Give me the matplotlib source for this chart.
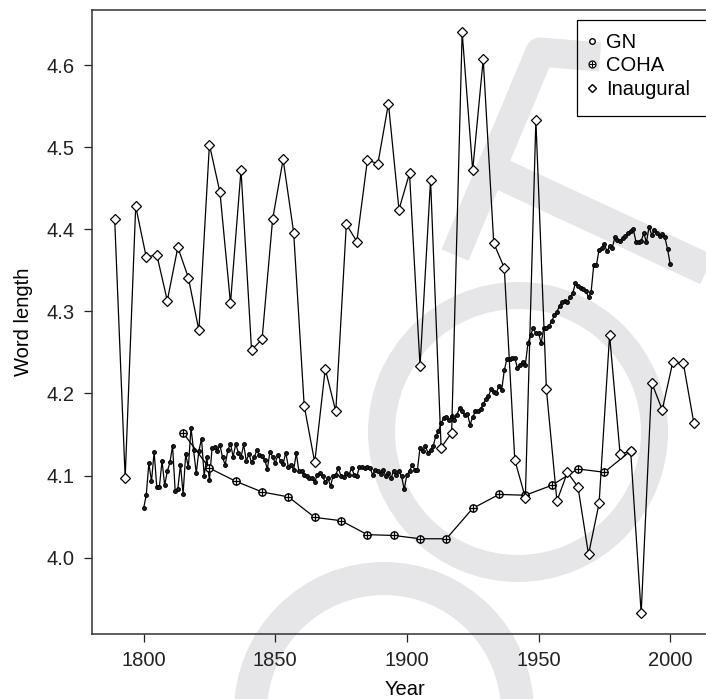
import numpy as np
import matplotlib
matplotlib.use("Agg")
import matplotlib.pyplot as plt
from matplotlib.lines import Line2D
from matplotlib.patches import Wedge, Rectangle

plt.rcParams['font.family'] = ['Liberation Sans', 'DejaVu Sans']

# Google Ngram yearly word length, 1800-2000
gn_years = np.arange(1800, 2001)
gn_1800_1855 = [4.060, 4.076, 4.115, 4.093, 4.129, 4.086, 4.086, 4.118, 4.088, 4.105,
                4.116, 4.136, 4.081, 4.084, 4.113, 4.078, 4.126, 4.110, 4.158, 4.131,
                4.103, 4.130, 4.145, 4.100, 4.122, 4.094, 4.133, 4.135, 4.130, 4.137,
                4.122, 4.113, 4.131, 4.139, 4.123, 4.138, 4.128, 4.122, 4.138, 4.118,
                4.126, 4.116, 4.122, 4.131, 4.125, 4.124, 4.119, 4.108, 4.129, 4.123,
                4.115, 4.125, 4.118, 4.114, 4.128, 4.110]
gn_1856_1908 = [4.113, 4.107, 4.127, 4.105, 4.106, 4.101, 4.099, 4.097, 4.097, 4.092,
                4.101, 4.103, 4.099, 4.092, 4.097, 4.087, 4.100, 4.101, 4.109, 4.099,
                4.098, 4.103, 4.101, 4.109, 4.101, 4.099, 4.111, 4.110, 4.109, 4.111,
                4.109, 4.101, 4.107, 4.106, 4.102, 4.107, 4.099, 4.103, 4.097, 4.106,
                4.101, 4.105, 4.099, 4.083, 4.101, 4.105, 4.113, 4.107, 4.107, 4.134,
                4.130, 4.136, 4.128]
gn_1909_1960 = [4.131, 4.136, 4.148, 4.154, 4.164, 4.170, 4.171, 4.168, 4.172, 4.168,
                4.174, 4.182, 4.178, 4.174, 4.175, 4.162, 4.171, 4.178, 4.178, 4.181,
                4.187, 4.193, 4.197, 4.205, 4.202, 4.201, 4.209, 4.204, 4.228, 4.242,
                4.242, 4.243, 4.243, 4.231, 4.235, 4.238, 4.235, 4.261, 4.271, 4.280,
                4.273, 4.274, 4.261, 4.280, 4.280, 4.282, 4.288, 4.295, 4.299, 4.307,
                4.311, 4.313]
gn_1961_2000 = [4.311, 4.317, 4.322, 4.334, 4.331, 4.329, 4.327, 4.325, 4.317, 4.324,
                4.357, 4.356, 4.375, 4.377, 4.382, 4.373, 4.379, 4.377, 4.390, 4.387,
                4.386, 4.389, 4.392, 4.395, 4.398, 4.400, 4.385, 4.385, 4.386, 4.395,
                4.384, 4.403, 4.393, 4.399, 4.396, 4.392, 4.394, 4.390, 4.376, 4.358]
gn_vals = gn_1800_1855 + gn_1856_1908 + gn_1909_1960 + gn_1961_2000

# COHA decade means
coha_years = [1815, 1825, 1835, 1845, 1855, 1865, 1875, 1885, 1895,
              1905, 1915, 1925, 1935, 1945, 1955, 1965, 1975, 1985]
coha_vals = [4.152, 4.109, 4.093, 4.080, 4.074, 4.049, 4.045, 4.028, 4.027,
             4.023, 4.023, 4.060, 4.077, 4.076, 4.088, 4.108, 4.104, 4.130]

# Inaugural addresses
inaug_years = [1789, 1793, 1797, 1801, 1805, 1809, 1813, 1817, 1821, 1825,
               1829, 1833, 1837, 1841, 1845, 1849, 1853, 1857, 1861, 1865,
               1869, 1873, 1877, 1881, 1885, 1889, 1893, 1897, 1901, 1905,
               1909, 1913, 1917, 1921, 1925, 1929, 1933, 1937, 1941, 1945,
               1949, 1953, 1957, 1961, 1965, 1969, 1973, 1977, 1981, 1985,
               1989, 1993, 1997, 2001, 2005, 2009]
inaug_vals = [4.413, 4.097, 4.428, 4.366, 4.369, 4.313, 4.378, 4.341, 4.277, 4.503,
              4.445, 4.310, 4.472, 4.253, 4.266, 4.412, 4.485, 4.396, 4.185, 4.116,
              4.230, 4.178, 4.406, 4.385, 4.484, 4.480, 4.553, 4.424, 4.468, 4.233,
              4.460, 4.134, 4.152, 4.640, 4.472, 4.607, 4.383, 4.353, 4.119, 4.073,
              4.533, 4.205, 4.069, 4.104, 4.086, 4.004, 4.066, 4.271, 4.126, 4.130,
              3.932, 4.213, 4.180, 4.238, 4.237, 4.164]

W, H = 706, 699
fig = plt.figure(figsize=(W / 100, H / 100), dpi=100)

# faint publisher watermark behind the plot (pixel coordinates)
bg = fig.add_axes([0, 0, 1, 1], zorder=0)
bg.set_xlim(0, W)
bg.set_ylim(H, 0)
bg.axis("off")
wm = "#e6e6e9"
bg.add_patch(Wedge((518, 432), 150, 0, 360, width=27, color=wm, lw=0))
bg.add_patch(Wedge((384, 712), 150, 0, 360, width=33, color=wm, lw=0))
bg.plot([455, 540, 600], [255, 52, 57], color=wm, lw=21, solid_joinstyle="round", solid_capstyle="butt")
bg.plot([488, 725], [168, 278], color=wm, lw=23, solid_capstyle="butt")
# legend frame, running off the right edge like the axes box
bg.add_patch(Rectangle((577, 20), 160, 96, fill=False, ec="black", lw=0.9, zorder=5))

ax = fig.add_axes([92 / W, 1 - 634 / H, (717 - 92) / W, (634 - 10) / H], zorder=1)
ax.set_facecolor("none")

line_kw = dict(color="black", lw=0.9)
ax.plot(gn_years, gn_vals, marker="o", ms=2.7, mfc="#222222", mec="black", mew=0.8, **line_kw)
ax.plot(coha_years, coha_vals, marker="o", ms=5.2, mfc="white", mec="black", mew=1.0, **line_kw)
ax.plot(coha_years, coha_vals, ls="none", marker="+", ms=5.2, mec="black", mew=0.9)
ax.plot(inaug_years, inaug_vals, marker="D", ms=5.2, mfc="white", mec="black", mew=0.9, **line_kw)

ax.set_xlim(1780.4, 2017.8)
ax.set_ylim(3.907, 4.667)
ax.set_xticks([1800, 1850, 1900, 1950, 2000])
ax.set_yticks([4.0, 4.1, 4.2, 4.3, 4.4, 4.5, 4.6])
ax.set_yticklabels(["4.0", "4.1", "4.2", "4.3", "4.4", "4.5", "4.6"])
ax.tick_params(direction="out", length=5.5, width=0.9, labelsize=14.5, colors="#222222", pad=7)
for s in ax.spines.values():
    s.set_linewidth(1.1)
    s.set_color("#333333")
ax.set_xlabel("Year", fontsize=14.5, labelpad=7)
ax.set_ylabel("Word length", fontsize=14.5, labelpad=10)

h_gn = Line2D([], [], ls="none", marker="o", ms=4, mfc="white", mec="black", mew=1)
h_coha = (Line2D([], [], ls="none", marker="o", ms=5, mfc="white", mec="black", mew=0.9),
          Line2D([], [], ls="none", marker="+", ms=5, mec="black", mew=0.8))
h_in = Line2D([], [], ls="none", marker="D", ms=4.5, mfc="white", mec="black", mew=1)
leg = ax.legend([h_gn, h_coha, h_in], ["GN", "COHA", "Inaugural"],
                loc="upper left", bbox_to_anchor=(584 / W, 1 - 33 / H), bbox_transform=fig.transFigure,
                fontsize=14.5, frameon=False,
                handlelength=0.8, handletextpad=0.3, borderpad=0, labelspacing=0.22,
                borderaxespad=0)

fig.savefig("out.png", dpi=100)
